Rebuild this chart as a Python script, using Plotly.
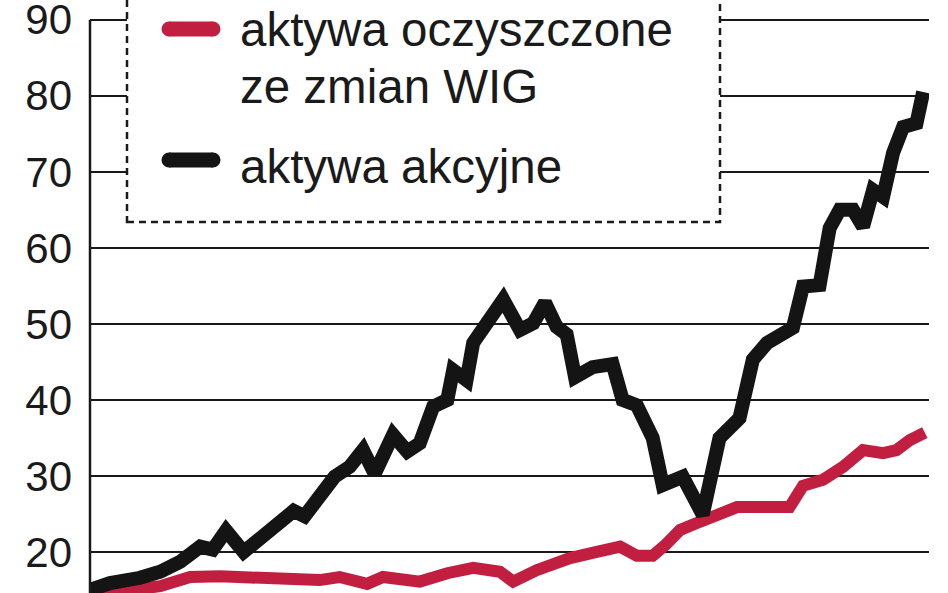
import plotly.graph_objects as go

# ---- data (x = period index) ----
akcyjne_x = [0, 2.4, 6.0, 8.4, 10.8, 13.2, 14.7, 16.3, 18.4, 21.2, 22.8, 24.4, 25.7, 27.5,
             29.3, 31.1, 32.7, 34.1, 36.3, 38.0, 39.5, 41.1, 42.8, 43.5, 45.1, 45.9, 47.5,
             49.5, 51.5, 53.1, 54.5, 55.9, 57.1, 58.1, 60.2, 62.6, 63.8, 65.5, 67.4, 68.6,
             71.0, 73.4, 75.4, 77.8, 79.4, 81.1, 84.2, 85.4, 87.4, 88.6, 89.8, 91.4, 92.6,
             93.8, 95.0, 96.2, 97.4, 99.0, 99.8]
akcyjne_y = [15.0, 15.9, 16.6, 17.4, 18.7, 20.7, 20.3, 22.8, 20.0, 22.6, 24.1, 25.4, 24.7, 27.5,
             29.9, 31.2, 33.4, 30.3, 35.4, 33.2, 34.3, 39.1, 40.0, 43.9, 42.6, 47.5, 50.1,
             53.2, 49.2, 50.1, 52.8, 49.6, 48.6, 43.0, 44.3, 44.7, 40.0, 39.3, 35.0, 28.8,
             29.9, 24.9, 35.0, 37.6, 45.3, 47.5, 49.5, 54.9, 55.1, 62.6, 65.0, 65.0, 62.8,
             67.6, 66.7, 72.5, 75.9, 76.4, 80.5]

oczyszczone_x = [0, 4.8, 8.4, 10.2, 12.0, 15.6, 20.4, 25.1, 27.5, 29.9, 33.2, 35.1, 37.5, 39.5,
                 42.8, 45.9, 49.1, 50.7, 53.5, 57.5, 60.7, 63.5, 65.5, 67.4, 68.9, 70.7, 72.7,
                 74.6, 77.5, 80.6, 83.8, 85.4, 87.8, 90.2, 92.6, 95.0, 96.6, 98.2, 100.0]
oczyszczone_y = [15.0, 15.0, 15.5, 16.3, 16.7, 16.8, 16.7, 16.3, 16.3, 16.7, 15.8, 16.7, 16.3, 16.1,
                 17.2, 17.9, 17.4, 16.1, 17.6, 19.2, 20.0, 20.7, 19.5, 19.5, 20.9, 22.9, 23.8,
                 24.6, 25.9, 25.9, 25.9, 28.7, 29.5, 31.2, 33.4, 33.0, 33.4, 34.7, 35.7]

tick_values = [20, 30, 40, 50, 60, 70, 80, 90]
tick_labels = ["20", "30", "40", "50", "60", "70", "80", "90"]

legend_labels = ["aktywa oczyszczone", "ze zmian WIG", "aktywa akcyjne"]

RED = "#c21f40"
BLACK = "#141414"
W, H = 948, 593
ML, MR, MT, MB = 90, 19, 0, 0
PW, PH = W - ML - MR, H - MT - MB


def px(x):
    return (x - ML) / PW


def py(y):
    return 1 - (y - MT) / PH


fig = go.Figure()
fig.add_trace(go.Scatter(x=oczyszczone_x, y=oczyszczone_y, mode="lines",
                         line=dict(color=RED, width=12), hoverinfo="skip"))
fig.add_trace(go.Scatter(x=akcyjne_x, y=akcyjne_y, mode="lines",
                         line=dict(color=BLACK, width=14), hoverinfo="skip"))

shapes = []
# y axis line (from bottom up to the 90 gridline)
shapes.append(dict(type="line", xref="paper", yref="y", x0=0, x1=0, y0=14.0, y1=90,
                   line=dict(color="#1a1a1a", width=2.5), layer="above"))
# legend box
shapes.append(dict(type="rect", xref="paper", yref="paper",
                   x0=px(127), x1=px(720), y0=py(222), y1=py(-10),
                   fillcolor="white", line=dict(color="#1a1a1a", width=2.5, dash="7px,5px"),
                   layer="above"))
# legend samples
for color, yy in [(RED, 29), (BLACK, 160)]:
    shapes.append(dict(type="line", xref="paper", yref="paper",
                       x0=px(169), x1=px(213), y0=py(yy), y1=py(yy),
                       line=dict(color=color, width=15), layer="above"))
    for xx in (169, 213):
        shapes.append(dict(type="circle", xref="paper", yref="paper",
                           xsizemode="pixel", ysizemode="pixel",
                           xanchor=px(xx), yanchor=py(yy),
                           x0=-7.5, x1=7.5, y0=-7.5, y1=7.5,
                           fillcolor=color, line=dict(width=0), layer="above"))

annotations = []
for text, yy in zip(legend_labels, [29, 86, 167]):
    annotations.append(dict(text=text, xref="paper", yref="paper", x=px(238), y=py(yy),
                            xanchor="left", yanchor="middle", showarrow=False,
                            font=dict(family="Liberation Sans, Arial", size=47.5, color="#1a1a1a")))

fig.update_layout(
    width=W, height=H,
    margin=dict(l=ML, r=MR, t=MT, b=MB, pad=0),
    paper_bgcolor="white", plot_bgcolor="white",
    showlegend=False,
    shapes=shapes, annotations=annotations,
    xaxis=dict(range=[0, 100.5], visible=False, fixedrange=True, automargin=False),
    yaxis=dict(range=[14.6, 92.6], tickvals=tick_values, ticktext=tick_labels,
               showgrid=True, gridcolor="#1a1a1a", gridwidth=2, zeroline=False,
               showline=False, ticks="", ticklabelstandoff=17, automargin=False,
               ticklabeloverflow="allow",
               tickfont=dict(family="Liberation Sans, Arial", size=42,
                             color="#1a1a1a"),
               fixedrange=True),
)

fig.write_html("out.html", post_script="document.body.style.margin='0';",
               config={"displayModeBar": False, "staticPlot": True})
